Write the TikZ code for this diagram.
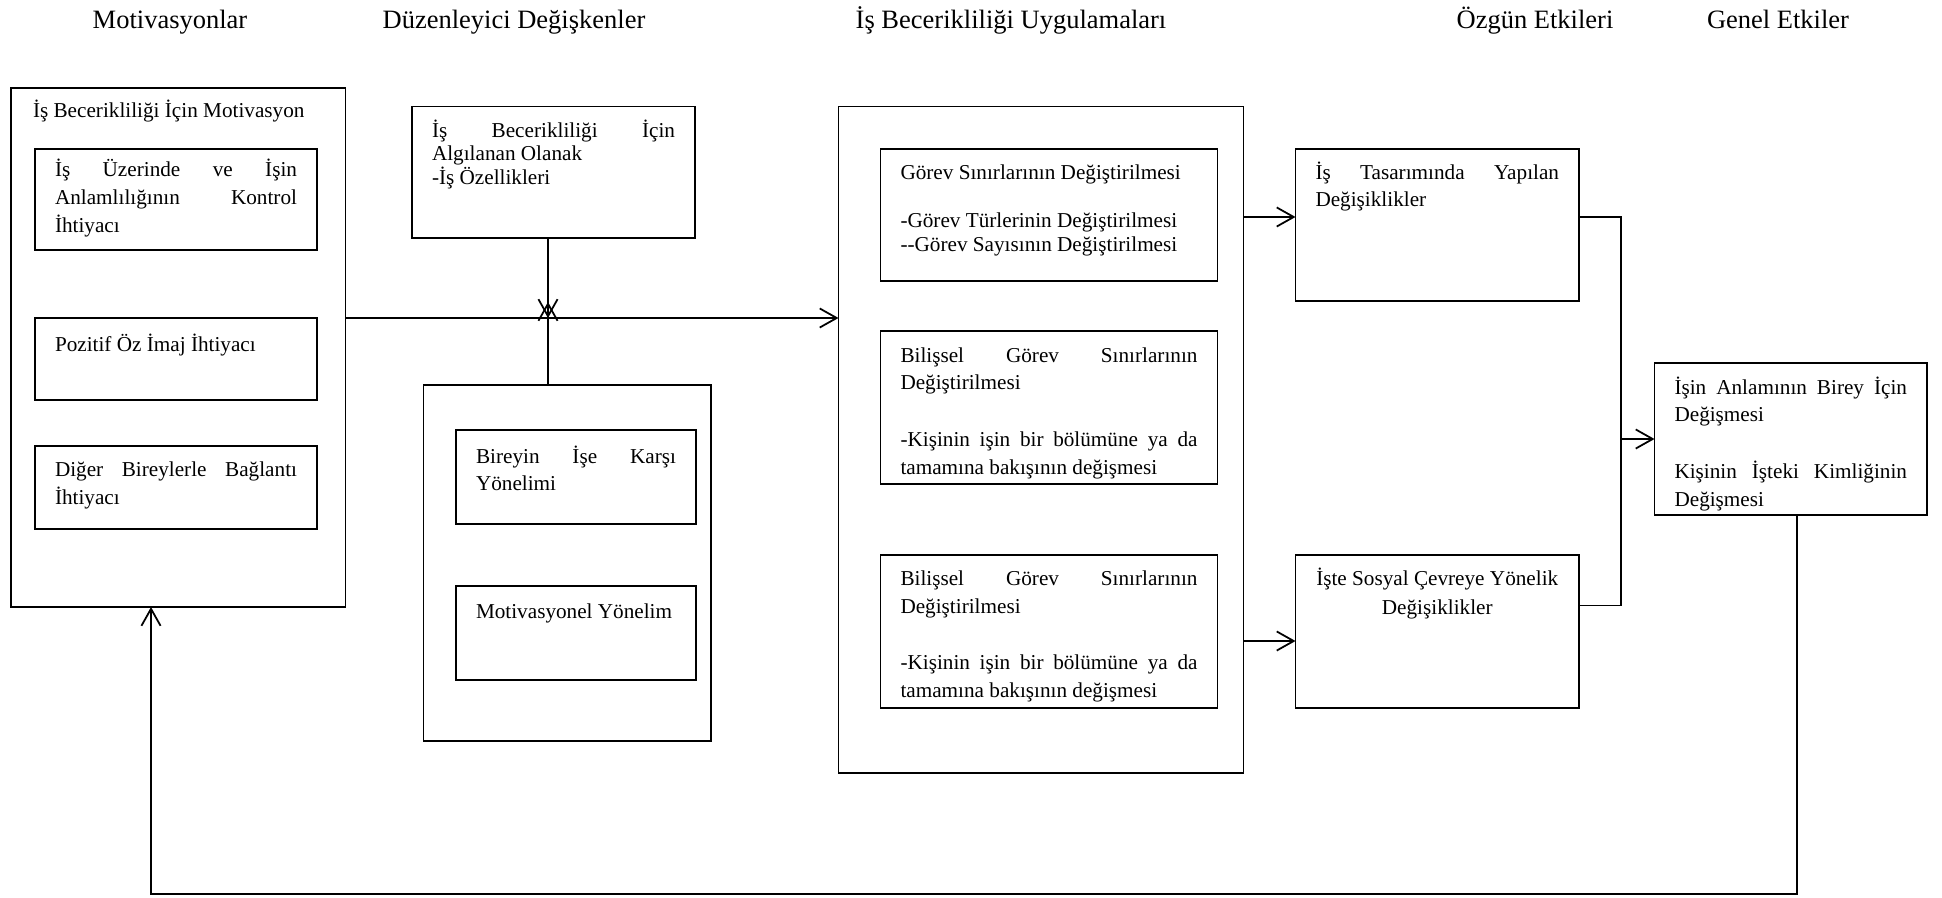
\documentclass[tikz,border=0pt]{standalone}
\usepackage{fontspec}
\setmainfont{Liberation Serif}
\usetikzlibrary{arrows.meta}
% one drawing unit, so that coordinates can be given on a 1942 x 898 grid
\newdimen\pxu
\pxu=0.566pt
% fixed-size text cell: [first baseline], width, height, line spacing (grid units), text
\newcommand\cell[5][31]{\parbox[c][#3\pxu][t]{#2\pxu}{\fontsize{12pt}{#4\pxu}\selectfont
  \parskip=0pt\tolerance=10000\hbadness=10000\hyphenpenalty=10000\exhyphenpenalty=10000
  \rule{0pt}{#1\pxu}#5}}
\begin{document}
\begin{tikzpicture}[x=0.566pt,y=-0.566pt,
  every node/.style={inner sep=0pt, outer sep=0pt, font=\fontsize{12pt}{14pt}\selectfont},
  box/.style={draw, line width=0.9pt, anchor=north west, inner xsep=20\pxu, inner ysep=0pt},
  frame/.style={draw, line width=0.9pt, anchor=north west},
  head/.style={anchor=base, font=\fontsize{15pt}{18pt}\selectfont},
  link/.style={line width=1pt},
  arr/.style={link, -{Straight Barb[length=9.6pt,width=10.8pt]}},
]
\fill[white] (0,0) rectangle (1942,898);

% column headings
\node[head] (h1) at (170,29) {Motivasyonlar};
\node[head] (h2) at (514,29) {Düzenleyici Değişkenler};
\node[head] (h3) at (1011,29) {İş Becerikliliği Uygulamaları};
\node[head] (h4) at (1535,29) {Özgün Etkileri};
\node[head] (h5) at (1778,29) {Genel Etkiler};

% motivations
\node[frame, minimum width=334.5\pxu, minimum height=519\pxu] (mot) at (11,88) {};
\node[anchor=base west] (motT) at (33,118) {İş Becerikliliği İçin Motivasyon};
\node[box] (m1) at (35,149) {\cell[28]{242}{101}{28}{İş Üzerinde ve İşin\linebreak Anlamlılığının Kontrol\linebreak İhtiyacı}};
\node[box] (m2) at (35,318) {\cell[34]{242}{82}{28}{Pozitif Öz İmaj İhtiyacı}};
\node[box] (m3) at (35,446) {\cell[30]{242}{83}{28.5}{Diğer Bireylerle Bağlantı\linebreak İhtiyacı}};

% moderating variables
\node[box] (alg) at (412,106.5) {\cell{243}{131.5}{23.5}{İş Becerikliliği İçin\linebreak Algılanan Olanak\\-İş Özellikleri}};
\node[frame, minimum width=287.5\pxu, minimum height=356\pxu] (dz) at (423.5,385) {};
\node[box] (b1) at (456,430) {\cell[33]{200}{94}{27}{Bireyin İşe Karşı\linebreak Yönelimi}};
\node[box] (b2) at (456,586) {\cell[32]{200}{94}{27}{Motivasyonel Yönelim}};

% job crafting practices
\node[box] (u1) at (880.5,149) {\cell{297}{132}{24}{Görev Sınırlarının Değiştirilmesi\par\mbox{}\par-Görev Türlerinin Değiştirilmesi\par-{}-Görev Sayısının Değiştirilmesi}};
\node[frame, minimum width=405\pxu, minimum height=666.5\pxu] (uyg) at (838.5,106.5) {};
\node[box] (u2) at (880.5,331) {\cell{297}{153}{28}{Bilişsel Görev Sınırlarının\linebreak Değiştirilmesi\par\mbox{}\par-Kişinin işin bir bölümüne ya da\linebreak tamamına bakışının değişmesi}};
\node[box] (u3) at (880.5,555) {\cell[30.5]{297}{153}{28}{Bilişsel Görev Sınırlarının\linebreak Değiştirilmesi\par\mbox{}\par-Kişinin işin bir bölümüne ya da\linebreak tamamına bakışının değişmesi}};

% specific effects
\node[box] (o1) at (1295.5,149) {\cell[30.5]{243.5}{152}{27.5}{İş Tasarımında Yapılan\linebreak Değişiklikler}};
\node[box] (o2) at (1295.5,555) {\cell[30.5]{243.5}{153}{28.5}{\centering İşte Sosyal Çevreye Yönelik\\Değişiklikler}};

% general effects
\node[box] (gen) at (1654.5,363) {\cell{232.5}{152}{28}{İşin Anlamının Birey İçin\linebreak Değişmesi\par\mbox{}\par Kişinin İşteki Kimliğinin\linebreak Değişmesi}};

% connectors
\coordinate (hline) at (0,318);
\draw[arr] (mot.east |- hline) -- (uyg.west |- hline);
\coordinate (xd) at (548,318);
\coordinate (xu) at (548,302);
\draw[arr] (alg.south -| xd) -- (xd);
\draw[arr] (dz.north -| xu) -- (xu);

\coordinate (r1) at (0,217);
\coordinate (r2) at (0,641);
\coordinate (r3) at (0,605.5);
\coordinate (jx) at (1621,0);
\draw[arr] (uyg.east |- r1) -- (o1.west |- r1);
\draw[arr] (uyg.east |- r2) -- (o2.west |- r2);
\draw[link] (o1.east |- r1) -- (jx |- r1) -- (jx |- r3) -- (o2.east |- r3);
\draw[arr] (jx |- gen.west) -- (gen.west);

% feedback loop
\coordinate (fb) at (1797,894);
\coordinate (fbl) at (151,894);
\draw[arr] (gen.south -| fb) -- (fb) -- (fbl) -- (mot.south -| fbl);
\end{tikzpicture}
\end{document}
